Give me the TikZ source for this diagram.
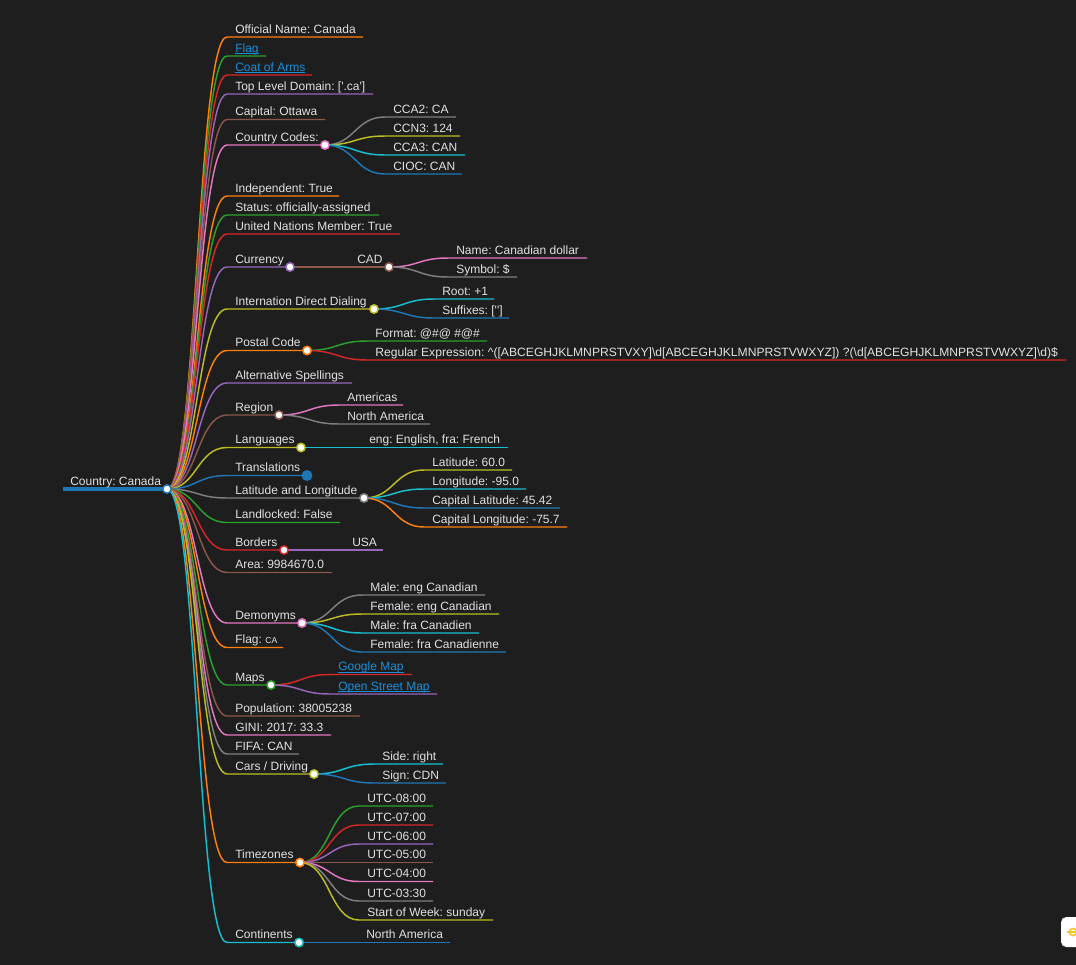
\documentclass[tikz,border=0pt]{standalone}
\usepackage{fontspec}
\setmainfont{Liberation Sans}
\usepackage{graphicx}
\frenchspacing
\definecolor{bgc}{RGB}{30,30,30}
\definecolor{txtc}{RGB}{225,225,225}
\definecolor{linkc}{RGB}{28,143,219}
\definecolor{mblue}{RGB}{31,119,180}
\definecolor{morange}{RGB}{255,127,14}
\definecolor{mgreen}{RGB}{44,160,44}
\definecolor{mred}{RGB}{214,39,40}
\definecolor{mpurple}{RGB}{148,103,189}
\definecolor{mbrown}{RGB}{140,86,75}
\definecolor{mpink}{RGB}{227,119,194}
\definecolor{mgray}{RGB}{127,127,127}
\definecolor{molive}{RGB}{188,189,34}
\definecolor{mcyan}{RGB}{23,190,207}
\newcommand\lnk[1]{\textcolor{linkc}{\setbox0\hbox{#1}\rlap{\rule[-1.7pt]{\wd0}{0.7pt}}\box0}}
\newcommand\mmk[7]{%
  \coordinate (#2) at (#3,#4);
  \coordinate (#2-e) at (#5,#4);
  \draw[lk=#6] (#1) .. controls +(30,0) and +(-30,0) .. (#2) -- (#2-e);
  \node[lbl] (#2-t) at ([shift={(8,-4)}]#2) {#7};
}
\tikzset{
  lk/.style={draw=#1, line width=1.1pt},
  lbl/.style={anchor=base west, inner sep=0pt, text=txtc, font=\fontsize{9pt}{11pt}\selectfont},
  dot/.style={circle, draw=#1, fill=white, line width=1.1pt, minimum size=6.3pt, inner sep=0pt},
}
\begin{document}
\begin{tikzpicture}[x=0.75pt,y=-0.75pt]
\useasboundingbox (0,0) rectangle (1076,965);
\fill[bgc] (0,0) rectangle (1076,965);
% root
\coordinate (root-s) at (63,489);
\coordinate (root-e) at (167,489);
\draw[mblue, line width=2.3pt] (root-s) -- (root-e);
\node[lbl] (root-t) at (70,485) {Country: Canada};

\mmk{root-e}{offn}{227}{37}{363}{morange}{Official Name: Canada}
\mmk{root-e}{flag}{227}{56}{266}{mgreen}{\lnk{Flag}}
\mmk{root-e}{coat}{227}{75}{312}{mred}{\lnk{Coat of Arms}}
\mmk{root-e}{tld}{227}{94}{373}{mpurple}{Top Level Domain: [\textquotesingle.ca\textquotesingle]}
\mmk{root-e}{cap}{227}{119.5}{325}{mbrown}{Capital: Ottawa}
\mmk{root-e}{cc}{227}{145}{325}{mpink}{Country Codes:}
  \mmk{cc-e}{cca2}{385}{117}{456}{mgray}{CCA2: CA}
  \mmk{cc-e}{ccn3}{385}{136}{460}{molive}{CCN3: 124}
  \mmk{cc-e}{cca3}{385}{155}{465}{mcyan}{CCA3: CAN}
  \mmk{cc-e}{cioc}{385}{174}{462}{mblue}{CIOC: CAN}
\mmk{root-e}{indep}{227}{196}{339}{morange}{Independent: True}
\mmk{root-e}{status}{227}{215}{379}{mgreen}{Status: officially-assigned}
\mmk{root-e}{un}{227}{234}{400}{mred}{United Nations Member: True}
\mmk{root-e}{cur}{227}{267}{290}{mpurple}{Currency}
  \mmk{cur-e}{cad}{349}{267}{389}{mbrown}{CAD}
    \mmk{cad-e}{cname}{448}{258}{587}{mpink}{Name: Canadian dollar}
    \mmk{cad-e}{csym}{448}{277}{517}{mgray}{Symbol: \$}
\mmk{root-e}{idd}{227}{309}{374}{molive}{Internation Direct Dialing}
  \mmk{idd-e}{iroot}{434}{299}{494}{mcyan}{Root: +1}
  \mmk{idd-e}{isuf}{434}{318}{509}{mblue}{Suffixes: [\textquotesingle\textquotesingle]}
\mmk{root-e}{post}{227}{350.5}{307}{morange}{Postal Code}
  \mmk{post-e}{pfmt}{367}{341}{487}{mgreen}{Format: @\#@ \#@\#}
  \mmk{post-e}{preg}{367}{360}{1066}{mred}{\resizebox{512pt}{\height}{Regular Expression: \textasciicircum([ABCEGHJKLMNPRSTVXY]\textbackslash d[ABCEGHJKLMNPRSTVWXYZ]) ?(\textbackslash d[ABCEGHJKLMNPRSTVWXYZ]\textbackslash d)\$}}
\mmk{root-e}{alt}{227}{383}{352}{mpurple}{Alternative Spellings}
\mmk{root-e}{reg}{227}{415}{279}{mbrown}{Region}
  \mmk{reg-e}{amer}{339}{405}{403}{mpink}{Americas}
  \mmk{reg-e}{nam}{339}{424}{430}{mgray}{North America}
\mmk{root-e}{lang}{227}{447.5}{301}{molive}{Languages}
  \mmk{lang-e}{eng}{361}{447.5}{508}{mcyan}{eng: English, fra: French}
\mmk{root-e}{trans}{227}{475.5}{307}{mblue}{Translations}
\mmk{root-e}{ll}{227}{498}{364}{mgray}{Latitude and Longitude}
  \mmk{ll-e}{lat}{424}{470}{512}{molive}{Latitude: 60.0}
  \mmk{ll-e}{lon}{424}{489}{526}{mcyan}{Longitude: -95.0}
  \mmk{ll-e}{clat}{424}{508}{560}{mblue}{Capital Latitude: 45.42}
  \mmk{ll-e}{clon}{424}{527}{567}{morange}{Capital Longitude: -75.7}
\mmk{root-e}{land}{227}{522.5}{340}{mgreen}{Landlocked: False}
\mmk{root-e}{bord}{227}{550}{284}{mred}{Borders}
  \mmk{bord-e}{usa}{344}{550}{383}{mpurple}{USA}
\mmk{root-e}{area}{227}{572.5}{332}{mbrown}{Area: 9984670.0}
\mmk{root-e}{dem}{227}{623}{302}{mpink}{Demonyms}
  \mmk{dem-e}{me}{362}{595}{485}{mgray}{Male: eng Canadian}
  \mmk{dem-e}{fe}{362}{614}{499}{molive}{Female: eng Canadian}
  \mmk{dem-e}{mf}{362}{633}{479}{mcyan}{Male: fra Canadien}
  \mmk{dem-e}{ff}{362}{652}{506}{mblue}{Female: fra Canadienne}
\mmk{root-e}{flca}{227}{647.5}{283}{morange}{Flag: {\fontsize{6.5pt}{7pt}\selectfont CA}}
\mmk{root-e}{maps}{227}{685}{271}{mgreen}{Maps}
  \mmk{maps-e}{gm}{330}{674.5}{412}{mred}{\lnk{Google Map}}
  \mmk{maps-e}{osm}{330}{694}{437}{mpurple}{\lnk{Open Street Map}}
\mmk{root-e}{pop}{227}{716}{360}{mbrown}{Population: 38005238}
\mmk{root-e}{gini}{227}{735}{331}{mpink}{GINI: 2017: 33.3}
\mmk{root-e}{fifa}{227}{754}{299}{mgray}{FIFA: CAN}
\mmk{root-e}{cars}{227}{774}{314}{molive}{Cars / Driving}
  \mmk{cars-e}{side}{374}{764}{443}{mcyan}{Side: right}
  \mmk{cars-e}{sign}{374}{783}{446}{mblue}{Sign: CDN}
\mmk{root-e}{tz}{227}{862.5}{300}{morange}{Timezones}
  \mmk{tz-e}{u8}{359}{806}{433}{mgreen}{UTC-08:00}
  \mmk{tz-e}{u7}{359}{825}{433}{mred}{UTC-07:00}
  \mmk{tz-e}{u6}{359}{844}{433}{mpurple}{UTC-06:00}
  \mmk{tz-e}{u5}{359}{862.5}{433}{mbrown}{UTC-05:00}
  \mmk{tz-e}{u4}{359}{881.5}{433}{mpink}{UTC-04:00}
  \mmk{tz-e}{u3}{359}{901}{433}{mgray}{UTC-03:30}
  \mmk{tz-e}{sow}{359}{920}{493}{molive}{Start of Week: sunday}
\mmk{root-e}{cont}{227}{942.5}{299}{mcyan}{Continents}
  \mmk{cont-e}{na}{358}{942.5}{450}{mblue}{North America}

% circles
\node[dot=mblue] (rootc) at (root-e) {};
\node[dot=mpink] (ccc) at (cc-e) {};
\node[dot=mpurple] (curc) at (cur-e) {};
\node[dot=mbrown] (cadc) at (cad-e) {};
\node[dot=molive] (iddc) at (idd-e) {};
\node[dot=morange] (postc) at (post-e) {};
\node[dot=mbrown] (regc) at (reg-e) {};
\node[dot=molive] (langc) at (lang-e) {};
\node[circle, fill=mblue, minimum size=8.2pt, inner sep=0pt] (transc) at (trans-e) {};
\node[dot=mgray] (llc) at (ll-e) {};
\node[dot=mred] (bordc) at (bord-e) {};
\node[dot=mpink] (demc) at (dem-e) {};
\node[dot=mgreen] (mapsc) at (maps-e) {};
\node[dot=molive] (carsc) at (cars-e) {};
\node[dot=morange] (tzc) at (tz-e) {};
\node[dot=mcyan] (contc) at (cont-e) {};

% corner widget
\begin{scope}
\clip (0,0) rectangle (1076,965);
\fill[white, rounded corners=4pt] (1061,917) rectangle (1095,947);
\draw[draw={rgb,255:red,240;green,200;blue,30}, line width=1.3pt] (1067,932) -- (1077,932);
\draw[draw={rgb,255:red,240;green,200;blue,30}, line width=1.2pt] (1073,932) circle (3.5);
\end{scope}
\end{tikzpicture}
\end{document}
